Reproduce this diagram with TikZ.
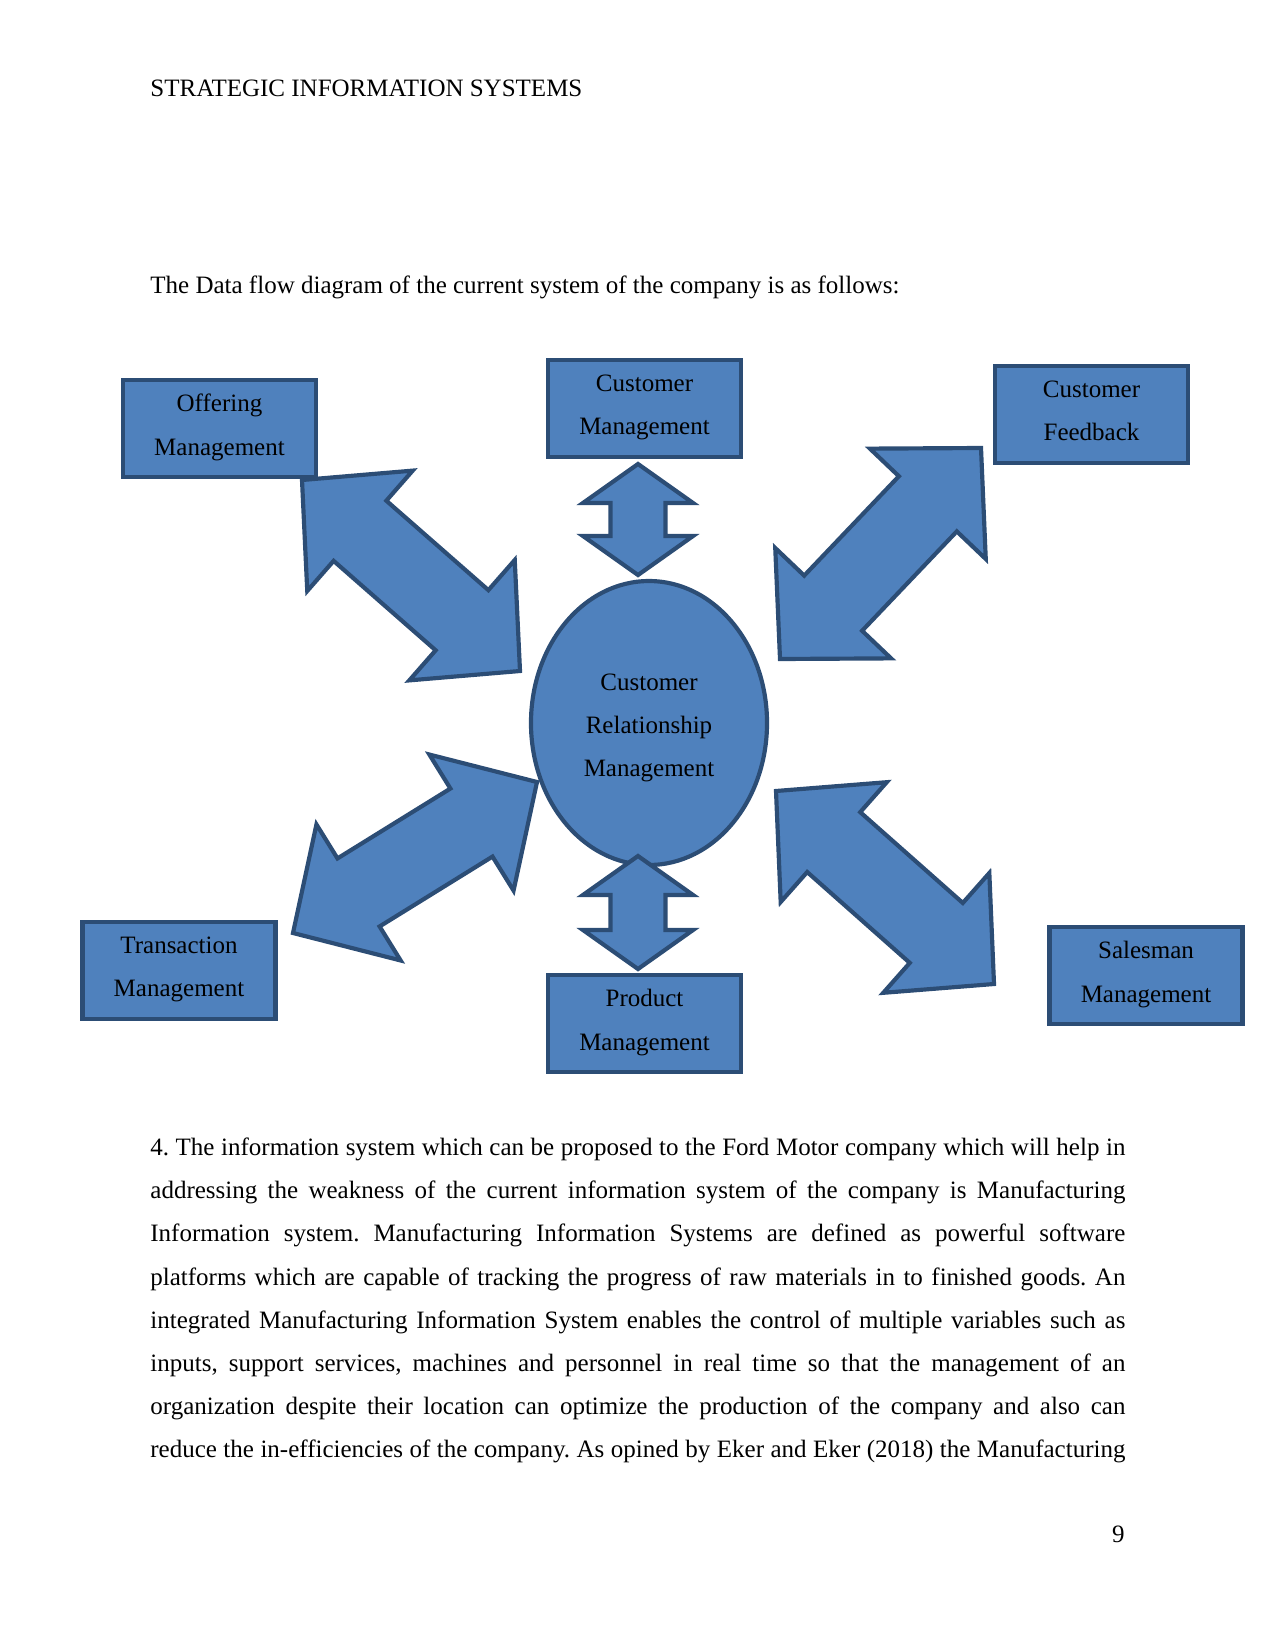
\documentclass[tikz,border=0pt]{standalone}
\usepackage{fontspec}
\setmainfont{Liberation Serif}
\usetikzlibrary{calc,shapes.geometric}
\definecolor{boxfill}{RGB}{79,129,189}
\definecolor{boxline}{RGB}{44,77,117}
\hyphenpenalty=10000
\exhyphenpenalty=10000
\tolerance=10000
\frenchspacing

\begin{document}
\begin{tikzpicture}[x=0.48pt,y=-0.48pt,
  entity/.style={draw=boxline,fill=boxfill,line width=2pt,minimum width=92.6pt,minimum height=46.6pt,
    align=center,inner sep=0pt,font=\fontsize{12}{20.74}\selectfont,
    execute at begin node={\rule{0pt}{8.5pt}},execute at end node={\rule[-3.6pt]{0pt}{3.6pt}}},
  process/.style={ellipse,draw=boxline,fill=boxfill,line width=2pt,minimum width=113.3pt,minimum height=136.3pt,
    align=center,inner sep=0pt,font=\fontsize{12}{20.74}\selectfont},
  blockarrow/.style={draw=boxline,fill=boxfill,line width=2pt,line join=miter},
  textline/.style={anchor=base west,inner sep=0pt,font=\fontsize{12}{20.74}\selectfont}]
\useasboundingbox (0,0) rectangle (1275,1651);
\node[textline] (title) at (150,97) {STRATEGIC INFORMATION SYSTEMS};
\node[textline] (intro) at (150,293) {The Data flow diagram of the current system of the company is as follows:};
% entities round the process
\node[entity] (offer) at (219.5,428.5) {Offering\\Management};
\node[entity] (custmgmt) at (644.5,408.5) {Customer\\Management};
\node[entity] (feedback) at (1091.5,414.5) {Customer\\Feedback};
\node[entity] (trans) at (179,970.5) {Transaction\\Management};
\node[entity] (sales) at (1146,975.5) {Salesman\\Management};
\node[entity] (product) at (644.5,1023.5) {Product\\Management};
\node[process] (crm) at (649,723) {\rule{0pt}{12.5pt}Customer\\Relationship\\Management};
% ends of the block arrows
\coordinate (a1s) at (302,480); \coordinate (a1e) at (520,671);
\coordinate (a2s) at (981,448); \coordinate (a2e) at (780,659);
\coordinate (a3s) at (537,782); \coordinate (a3e) at (293,933);
\coordinate (a4s) at (776,791); \coordinate (a4e) at (994,984);
\coordinate (v1s) at (638,464); \coordinate (v1e) at (638,575);
\coordinate (v2s) at (638,856); \coordinate (v2e) at (638,969);
\foreach \a/\b/\hl/\hw/\sw in %
{a1s/a1e/37pt/38.4pt/19.2pt,a2s/a2e/37pt/38.4pt/19.2pt,a3s/a3e/37pt/38.4pt/19.2pt,
 a4s/a4e/37pt/38.4pt/19.2pt,v1s/v1e/18.7pt/26.4pt/13.2pt,v2s/v2e/18.7pt/26.4pt/13.2pt} {
   \path ($(\a)!\hl!(\b)$) coordinate (pa) ($(\b)!\hl!(\a)$) coordinate (pb);
   \draw[blockarrow] (\a) -- ($(pa)!\hw!90:(\b)$) -- ($(pa)!\sw!90:(\b)$)
      -- ($(pb)!\sw!-90:(\a)$) -- ($(pb)!\hw!-90:(\a)$) -- (\b)
      -- ($(pb)!\hw!90:(\a)$) -- ($(pb)!\sw!90:(\a)$)
      -- ($(pa)!\sw!-90:(\b)$) -- ($(pa)!\hw!-90:(\b)$) -- cycle;
}
\node[anchor=north west,inner sep=0pt,text width=468pt,align=justify,font=\fontsize{12}{20.74}\selectfont] (para) at (150,1134.2)
{\parfillskip=0pt\rule{0pt}{10pt}4. The information system which can be proposed to the Ford Motor company which will help in\linebreak
addressing the weakness of the current information system of the company is Manufacturing\linebreak
Information system. Manufacturing Information Systems are defined as powerful software\linebreak
platforms which are capable of tracking the progress of raw materials in to finished goods. An\linebreak
integrated Manufacturing Information System enables the control of multiple variables such as\linebreak
inputs, support services, machines and personnel in real time so that the management of an\linebreak
organization despite their location can optimize the production of the company and also can\linebreak
reduce the in-efficiencies of the company. As opined by Eker and Eker (2018) the Manufacturing\par};
\node[anchor=base east,inner sep=0pt,font=\fontsize{12}{20.74}\selectfont] (pagenum) at (1125,1542) {9};
\end{tikzpicture}
\end{document}
